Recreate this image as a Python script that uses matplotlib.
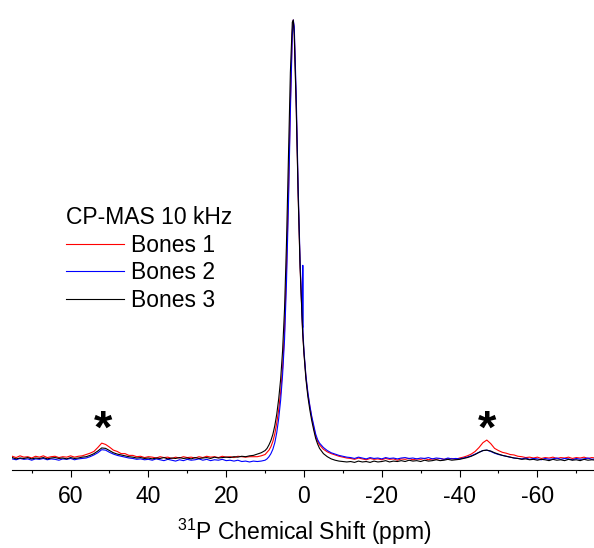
import numpy as np
import matplotlib
matplotlib.use("Agg")
import matplotlib.pyplot as plt

# ---------------------------------
# Data: 31P CP-MAS spectra
# intensity in 1/1000 of the main peak height
# ---------------------------------

ppm_left = [
    75, 74, 73, 72, 71, 70, 69, 68, 67, 66, 65, 64, 63, 62, 61, 60,
    59, 58, 57, 56, 55, 54, 53, 52, 51, 50, 49, 48, 47, 46, 45, 44,
    43, 42, 41, 40, 39, 38, 37, 36, 35, 34, 33, 32, 31, 30, 29, 28,
    27, 26, 25, 24, 23, 22, 21, 20, 19, 18, 17, 16, 15, 14
]

ppm_peak = [
    13, 12, 11, 10, 9.5, 9, 8.5, 8, 7.5, 7, 6.5, 6, 5.5, 5, 4.5, 4,
    3.5, 3, 2.75, 2.5, 2, 1.5, 1, 0.5, 0.35, 0.3, 0.25, 0, -0.5, -1,
    -1.5, -2, -2.5, -3, -3.5, -4, -5, -6, -7, -8, -9, -10, -11
]

ppm_right = [
    -12, -13, -14, -15, -16, -17, -18, -19, -20, -21, -22, -23, -24,
    -25, -26, -27, -28, -29, -30, -31, -32, -33, -34, -35, -36, -37,
    -38, -39, -40, -41, -42, -43, -44, -45, -46, -47, -48, -49, -50,
    -51, -52, -53, -54, -55, -56, -57, -58, -59, -60, -61, -62, -63,
    -64, -65, -66, -67, -68, -69, -70, -71, -72, -73, -74, -75
]

# Bones 1 (red)
bones1_left = [
    4, 1, 5, 2, 3, 0, 4, 2, 5, 1, 3, 4, 1, 3, 2, 5,
    2, 4, 5, 8, 11, 15, 24, 34, 31, 25, 18, 15, 10, 10, 6, 6,
    3, 4, 1, 3, 2, 0, 3, 1, 2, -1, 2, 0, 3, 1, 2, 0,
    3, 1, 4, 2, 3, 1, 4, 2, 3, 1, 4, 3, 2, 3
]
bones1_peak = [
    3, 3, 5, 8, 13, 18, 26, 38, 55, 80, 110, 150, 205, 290, 430, 600,
    810, 975, 1000, 975, 810, 605, 440, 320, 290, 283, 278, 240, 185, 146,
    118, 92, 70, 50, 38, 30, 20, 14, 10, 7, 4, 2, 0
]
bones1_right = [
    -1, -3, 0, -2, -4, -1, -3, -2, -4, -1, -3, -2, -5,
    -2, -3, -1, -4, -2, -3, -1, -4, -2, -3, -1, -3, -2,
    -1, -3, 0, 2, 5, 9, 15, 24, 35, 41, 33, 22, 17,
    13, 11, 8, 7, 4, 3, 1, 2, 0, 2, -1, 1, 0,
    2, -1, 1, 0, 2, -1, 1, 0, 2, -1, 1, 0
]

# Bones 2 (blue)
bones2_left = [
    -2, -4, -1, -3, -2, -5, -2, -3, -1, -4, -2, -3, -5, -2, -3, -1,
    -4, -2, -1, 0, 3, 7, 12, 19, 18, 13, 9, 6, 4, 2, 0, -1,
    -3, -2, -4, -3, -5, -2, -4, -6, -3, -5, -7, -4, -6, -3, -5, -4,
    -2, -5, -3, -6, -4, -5, -3, -6, -5, -7, -5, -8, -7, -9
]
bones2_peak = [
    -7, -8, -7, -5, -2, 3, 10, 20, 35, 58, 90, 132, 190, 270, 400, 575,
    790, 965, 1000, 985, 830, 620, 450, 325, 298, 440, 285, 245, 188, 150,
    120, 95, 75, 55, 42, 34, 24, 17, 12, 9, 6, 4, 2
]
bones2_right = [
    1, -1, 2, 0, -2, 1, -1, 0, -2, 1, -1, 0, -2,
    0, 1, -1, 0, -2, 0, -1, 1, -2, 0, -1, -3, 0,
    -2, -1, -2, 0, 2, 5, 9, 13, 17, 18, 15, 11, 8,
    6, 4, 2, 0, -1, -2, 0, -3, -1, -2, -4, -1, -3,
    -2, 0, -3, -1, -2, -4, -1, -3, -2, 0, -3, -2
]

# Bones 3 (black)
bones3_left = [
    1, -2, 0, -1, 1, -2, 0, -1, 1, -2, 0, 1, -1, 0, -2, 1,
    -1, 0, 2, 3, 6, 10, 16, 23, 22, 17, 12, 9, 7, 5, 3, 2,
    0, 1, -1, 0, -2, 0, -1, 1, -2, 0, -1, 1, -1, 0, -2, 1,
    -1, 0, 1, -1, 2, 0, 1, 2, 1, 3, 2, 4, 3, 5
]
bones3_peak = [
    6, 9, 12, 17, 22, 30, 40, 54, 74, 100, 135, 180, 245, 340, 490, 680,
    880, 995, 1000, 965, 800, 600, 435, 318, 288, 281, 276, 238, 180, 140,
    110, 85, 64, 45, 32, 22, 10, 3, -2, -5, -7, -8, -9
]
bones3_right = [
    -8, -10, -7, -9, -8, -10, -7, -9, -8, -6, -9, -7, -8,
    -6, -8, -5, -7, -6, -8, -5, -7, -6, -4, -6, -5, -3,
    -5, -4, -3, -1, 1, 4, 8, 13, 17, 18, 16, 12, 9,
    6, 4, 2, 0, -1, -3, -2, -4, -3, -5, -3, -4, -6,
    -3, -5, -4, -6, -3, -5, -4, -6, -3, -5, -4, -5
]

labels = ["Bones 1", "Bones 2", "Bones 3"]
colors = ["#ff0000", "#0000ff", "#000000"]

# spinning sidebands marked with *
sideband_ppm = [51.6, -47.0]
sideband_mark_y = [62, 62]

ppm = np.array(ppm_left + ppm_peak + ppm_right, dtype=float)
spectra = [
    np.array(bones1_left + bones1_peak + bones1_right, dtype=float),
    np.array(bones2_left + bones2_peak + bones2_right, dtype=float),
    np.array(bones3_left + bones3_peak + bones3_right, dtype=float),
]

# ---------------------------------
# Plot
# ---------------------------------

plt.rcParams["font.family"] = ["Liberation Sans", "DejaVu Sans"]
plt.rcParams["axes.unicode_minus"] = False
plt.rcParams["mathtext.default"] = "regular"

fig = plt.figure(figsize=(5.94, 5.48), dpi=100)
ax = fig.add_axes([0.0206, 0.1423, 0.9823, 0.8394])

for y, label, color in zip(spectra, labels, colors):
    ax.plot(ppm, y, color=color, lw=0.8, label=label)

for x, y in zip(sideband_ppm, sideband_mark_y):
    ax.text(
        x, y, "*",
        fontsize=34,
        fontweight="bold",
        ha="center",
        va="center"
    )

ax.set_xlim(75, -75)
ax.set_ylim(-27.4, 1022.8)

for side in ["top", "left", "right"]:
    ax.spines[side].set_visible(False)
ax.spines["bottom"].set_linewidth(0.8)

ax.set_yticks([])
ax.set_xticks([60, 40, 20, 0, -20, -40, -60])
ax.set_xticks([70, 50, 30, 10, -10, -30, -50, -70], minor=True)

ax.tick_params(
    axis="x", which="major", direction="out",
    length=5, width=0.8, labelsize=16.5, pad=6
)
ax.tick_params(
    axis="x", which="minor", direction="out",
    length=2.5, width=0.8
)

ax.set_xlabel(r"$^{31}$P Chemical Shift (ppm)", fontsize=16.5, labelpad=6)

ax.legend(
    title="CP-MAS 10 kHz",
    loc="upper left",
    bbox_to_anchor=(66 / 594, 1 - 206 / 548),
    bbox_transform=fig.transFigure,
    frameon=False,
    fontsize=16.5,
    title_fontsize=16.5,
    handlelength=2.55,
    handletextpad=0.3,
    labelspacing=0.2,
    borderpad=0,
    borderaxespad=0,
    alignment="left"
)

plt.savefig("out.png", dpi=100)
plt.close()
